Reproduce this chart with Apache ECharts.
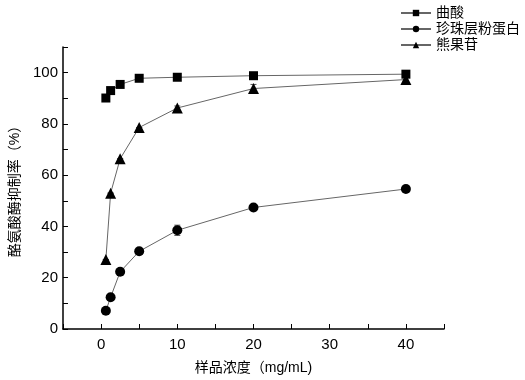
<!DOCTYPE html>
<html>
<head>
<meta charset="utf-8">
<script src="https://cdn.jsdelivr.net/npm/echarts@6/dist/echarts.min.js"></script>
<style>
  html, body { margin: 0; padding: 0; background: #fff; }
  #main { width: 525px; height: 380px; }
</style>
</head>
<body>
<div id="main"></div>
<script>
var myChart = echarts.init(document.getElementById('main'));

// 样品浓度 mg/mL
var conc = [0.625, 1.25, 2.5, 5, 10, 20, 40];
var kojic = [90.1, 93.0, 95.4, 97.8, 98.2, 98.8, 99.4];
var kojicErr = [0, 0, 0, 0, 0.5, 0.6, 0.6];
var pearl = [7.1, 12.4, 22.3, 30.3, 38.5, 47.4, 54.6];
var pearlErr = [0, 0, 0, 0, 2.0, 1.2, 0.5];
var arbutin = [27.1, 53.0, 66.4, 78.6, 86.2, 93.8, 97.3];
var arbutinErr = [0, 0, 0, 0, 0.8, 1.6, 1.0];
var names = ['曲酸', '珍珠层粉蛋白', '熊果苷'];

var font = 'Liberation Sans, Arial, "Noto Sans CJK SC", sans-serif';

function pairs(ys) {
    return conc.map(function (x, i) { return [x, ys[i]]; });
}

function errData(ys, errs) {
    return conc.map(function (x, i) { return [x, ys[i] - errs[i], ys[i] + errs[i]]; });
}

function errSeries(ys, errs) {
    return {
        type: 'custom',
        silent: true,
        z: 1,
        renderItem: function (params, api) {
            var x = api.value(0);
            var lo = api.coord([x, api.value(1)]);
            var hi = api.coord([x, api.value(2)]);
            var w = 3;
            var st = { stroke: '#555', lineWidth: 1 };
            return {
                type: 'group',
                children: [
                    { type: 'line', shape: { x1: lo[0], y1: lo[1], x2: hi[0], y2: hi[1] }, style: st },
                    { type: 'line', shape: { x1: lo[0] - w, y1: lo[1], x2: lo[0] + w, y2: lo[1] }, style: st },
                    { type: 'line', shape: { x1: hi[0] - w, y1: hi[1], x2: hi[0] + w, y2: hi[1] }, style: st }
                ]
            };
        },
        data: errData(ys, errs)
    };
}

function lineSeries(name, ys, symbol, size) {
    return {
        name: name,
        type: 'line',
        z: 3,
        data: pairs(ys),
        symbol: symbol,
        symbolSize: size,
        showAllSymbol: true,
        lineStyle: { color: '#666', width: 1 },
        itemStyle: { color: '#000' }
    };
}

myChart.setOption({
    animation: false,
    textStyle: { fontFamily: font },
    grid: { left: 62, right: 81, top: 47, bottom: 48 },
    legend: {
        orient: 'vertical',
        right: 0,
        top: 1,
        itemWidth: 30,
        itemHeight: 8,
        itemGap: 2,
        data: names,
        textStyle: { fontSize: 14, color: '#000', fontFamily: font }
    },
    xAxis: {
        type: 'value',
        min: -5,
        max: 45,
        interval: 5,
        name: '样品浓度（mg/mL)',
        nameLocation: 'middle',
        nameGap: 32,
        nameTextStyle: { fontSize: 14, color: '#000' },
        axisLine: { onZero: false, lineStyle: { color: '#000', width: 1.5 } },
        axisTick: { inside: true, length: 5, lineStyle: { color: '#000' } },
        axisLabel: {
            fontSize: 15,
            color: '#000',
            margin: 8,
            formatter: function (v) {
                return (v % 10 === 0 && v >= 0 && v <= 40) ? String(v) : '';
            }
        },
        splitLine: { show: false }
    },
    yAxis: {
        type: 'value',
        min: 0,
        max: 110,
        interval: 10,
        name: '酪氨酸酶抑制率（%）',
        nameLocation: 'middle',
        nameGap: 41,
        nameTextStyle: { fontSize: 14, color: '#000' },
        axisLine: { show: true, onZero: false, lineStyle: { color: '#000', width: 1.5 } },
        axisTick: { show: true, inside: true, length: 5, lineStyle: { color: '#000' } },
        axisLabel: {
            fontSize: 15,
            color: '#000',
            margin: 5,
            formatter: function (v) {
                return (v % 20 === 0 && v <= 100) ? String(v) : '';
            }
        },
        splitLine: { show: false }
    },
    series: [
        lineSeries(names[0], kojic, 'rect', 9),
        lineSeries(names[1], pearl, 'circle', 10),
        lineSeries(names[2], arbutin, 'triangle', 11),
        errSeries(kojic, kojicErr),
        errSeries(pearl, pearlErr),
        errSeries(arbutin, arbutinErr)
    ]
});
</script>
</body>
</html>
